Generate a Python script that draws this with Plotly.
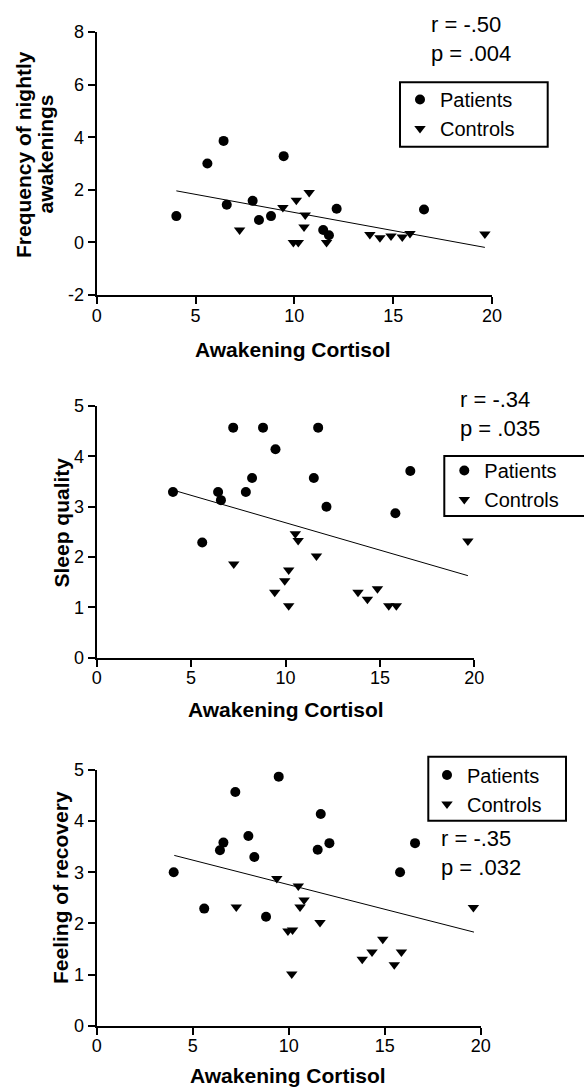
import plotly.graph_objects as go

W, H = 584, 1088
FONT = "Liberation Sans, Arial, sans-serif"

# ---------------- data ----------------
# Panel 1: Frequency of nightly awakenings
p1_pat_x = [4.03, 5.6, 6.42, 6.58, 7.89, 8.21, 8.82, 9.46, 11.46, 11.75, 12.14, 16.56]
p1_pat_y = [1.0, 3.0, 3.86, 1.43, 1.58, 0.85, 1.0, 3.28, 0.47, 0.27, 1.28, 1.25]
p1_con_x = [7.23, 9.42, 9.95, 10.2, 10.1, 10.75, 10.55, 10.49, 11.63, 13.82, 14.33, 14.89, 15.46, 15.85, 19.64]
p1_con_y = [0.47, 1.33, 0.0, 0.0, 1.6, 1.9, 1.04, 0.59, 0.0, 0.3, 0.18, 0.24, 0.21, 0.34, 0.32]
p1_fit_x = [4.03, 19.64]
p1_fit_y = [1.96, -0.19]
p1_stats = ["r = -.50", "p = .004"]
p1_y_ticks = [-2, 0, 2, 4, 6, 8]
p1_y_ticklabels = ["-2", "0", "2", "4", "6", "8"]

# Panel 2: Sleep quality
p2_pat_x = [4.04, 5.59, 6.43, 6.58, 7.23, 7.9, 8.23, 8.81, 9.47, 11.5, 11.73, 12.17, 15.82, 16.61]
p2_pat_y = [3.29, 2.29, 3.29, 3.13, 4.57, 3.29, 3.57, 4.57, 4.14, 3.57, 4.57, 3.0, 2.87, 3.71]
p2_con_x = [7.26, 9.43, 9.96, 10.17, 10.17, 10.52, 10.67, 11.64, 13.84, 14.34, 14.87, 15.47, 15.87, 19.66]
p2_con_y = [1.86, 1.30, 1.53, 1.74, 1.03, 2.46, 2.33, 2.02, 1.30, 1.16, 1.37, 1.03, 1.03, 2.32]
p2_fit_x = [4.04, 19.66]
p2_fit_y = [3.33, 1.63]
p2_stats = ["r = -.34", "p = .035"]

# Panel 3: Feeling of recovery
p3_pat_x = [4.01, 5.6, 6.42, 6.6, 7.22, 7.9, 8.21, 8.82, 9.48, 11.51, 11.67, 12.12, 15.8, 16.58]
p3_pat_y = [3.0, 2.29, 3.43, 3.58, 4.57, 3.71, 3.3, 2.13, 4.87, 3.44, 4.14, 3.57, 3.0, 3.57]
p3_con_x = [7.27, 9.38, 9.96, 10.2, 10.16, 10.5, 10.8, 10.59, 11.63, 13.83, 14.34, 14.9, 15.5, 15.87, 19.62]
p3_con_y = [2.32, 2.88, 1.85, 1.87, 1.01, 2.73, 2.46, 2.32, 2.02, 1.3, 1.44, 1.69, 1.19, 1.44, 2.31]
p3_fit_x = [4.04, 19.65]
p3_fit_y = [3.33, 1.83]
p3_stats = ["r = -.35", "p = .032"]

score_y_ticks = [0, 1, 2, 3, 4, 5]
score_y_ticklabels = ["0", "1", "2", "3", "4", "5"]
x_ticks = [0, 5, 10, 15, 20]
x_ticklabels = ["0", "5", "10", "15", "20"]

x_title = "Awakening Cortisol"
y_title_lines = [["Frequency of nightly", "awakenings"], ["Sleep quality"], ["Feeling of recovery"]]
group_names = ["Patients", "Controls"]


def px(x):
    return x / W


def py(y):
    return 1 - y / H


# ---------------- layout geometry (pixels) ----------------
panels = [
    dict(pat=(p1_pat_x, p1_pat_y), con=(p1_con_x, p1_con_y), fit=(p1_fit_x, p1_fit_y),
         stats=p1_stats, xd=(96.7, 492.0), yd=(32.0, 295.0), yr=[-2, 8],
         yticks=(p1_y_ticks, p1_y_ticklabels),
         xt=(293.4, 349.5), yt=([23.5, 45.0], 154.5), st=(429.3, 39.5),
         box=(400.0, 82.3, 547.7, 146.7), leg=(400.0, 80.0)),
    dict(pat=(p2_pat_x, p2_pat_y), con=(p2_con_x, p2_con_y), fit=(p2_fit_x, p2_fit_y),
         stats=p2_stats, xd=(96.7, 474.3), yd=(406.0, 657.7), yr=[0, 5],
         yticks=(score_y_ticks, score_y_ticklabels),
         xt=(285.8, 709.0), yt=([61.0], 522.5), st=(457.7, 413.5),
         box=(444.3, 456.0, 593.0, 516.0), leg=(444.3, 451.0)),
    dict(pat=(p3_pat_x, p3_pat_y), con=(p3_con_x, p3_con_y), fit=(p3_fit_x, p3_fit_y),
         stats=p3_stats, xd=(96.7, 480.7), yd=(770.0, 1025.7), yr=[0, 5],
         yticks=(score_y_ticks, score_y_ticklabels),
         xt=(288.0, 1075.0), yt=([60.0], 888.0), st=(439.3, 852.5),
         box=(428.3, 756.7, 566.0, 820.7), leg=(427.0, 755.5)),
]

fig = go.Figure()
layout = dict(
    width=W, height=H, margin=dict(l=0, r=0, t=0, b=0),
    paper_bgcolor="white", plot_bgcolor="white",
    font=dict(family=FONT, color="black", size=18),
    annotations=[], shapes=[], template="none",
)

for i, p in enumerate(panels):
    n = "" if i == 0 else str(i + 1)
    xa, ya = "x" + n, "y" + n
    legname = "legend" if i == 0 else "legend" + str(i + 1)

    fig.add_trace(go.Scatter(
        x=p["fit"][0], y=p["fit"][1], mode="lines", xaxis=xa, yaxis=ya,
        line=dict(color="black", width=1), showlegend=False, hoverinfo="skip"))
    fig.add_trace(go.Scatter(
        x=p["pat"][0], y=p["pat"][1], mode="markers", name=group_names[0],
        xaxis=xa, yaxis=ya, legend=legname, cliponaxis=False,
        marker=dict(symbol="circle", size=10, color="black")))
    fig.add_trace(go.Scatter(
        x=p["con"][0], y=p["con"][1], mode="markers", name=group_names[1],
        xaxis=xa, yaxis=ya, legend=legname, cliponaxis=False,
        marker=dict(symbol="triangle-down", size=10, color="black")))

    axis_common = dict(showline=True, linecolor="black", linewidth=2, ticks="outside",
                       ticklen=7, tickwidth=1.5, tickcolor="black", showgrid=False,
                       zeroline=False, tickfont=dict(size=18, family=FONT, color="black"),
                       automargin=False, tickmode="array")
    layout["xaxis" + n] = dict(axis_common, domain=[px(p["xd"][0]), px(p["xd"][1])],
                               range=[0, 20], tickvals=x_ticks, ticktext=x_ticklabels,
                               ticklabelstandoff=-4, anchor=ya)
    layout["yaxis" + n] = dict(axis_common, domain=[py(p["yd"][1]), py(p["yd"][0])],
                               range=p["yr"], tickvals=p["yticks"][0], ticktext=p["yticks"][1],
                               anchor=xa)

    layout[legname] = dict(x=px(p["leg"][0]), y=py(p["leg"][1]), xanchor="left", yanchor="top",
                           bgcolor="rgba(0,0,0,0)", borderwidth=0,
                           font=dict(size=20, family=FONT, color="black"))

    b = p["box"]
    layout["shapes"].append(dict(type="rect", xref="paper", yref="paper",
                                 x0=px(b[0]), x1=px(b[2]), y0=py(b[3]), y1=py(b[1]),
                                 line=dict(color="black", width=2), fillcolor="rgba(0,0,0,0)"))

    layout["annotations"].append(dict(
        text="<b>" + x_title + "</b>", xref="paper", yref="paper",
        x=px(p["xt"][0]), y=py(p["xt"][1]), xanchor="center", yanchor="middle",
        showarrow=False, font=dict(size=21, family=FONT, color="black")))
    for line_text, lx in zip(y_title_lines[i], p["yt"][0]):
        layout["annotations"].append(dict(
            text="<b>" + line_text + "</b>", xref="paper", yref="paper",
            x=px(lx), y=py(p["yt"][1]), xanchor="center", yanchor="middle",
            textangle=-90, showarrow=False, font=dict(size=21, family=FONT, color="black")))
    layout["annotations"].append(dict(
        text="<br>".join(p["stats"]), xref="paper", yref="paper", align="left",
        x=px(p["st"][0]), y=py(p["st"][1]), xanchor="left", yanchor="middle",
        showarrow=False, font=dict(size=22, family=FONT, color="black")))

fig.update_layout(**layout)
fig.write_html("out.html", config={"displayModeBar": False},
               post_script="document.body.style.margin='0';document.body.style.overflow='hidden';")
